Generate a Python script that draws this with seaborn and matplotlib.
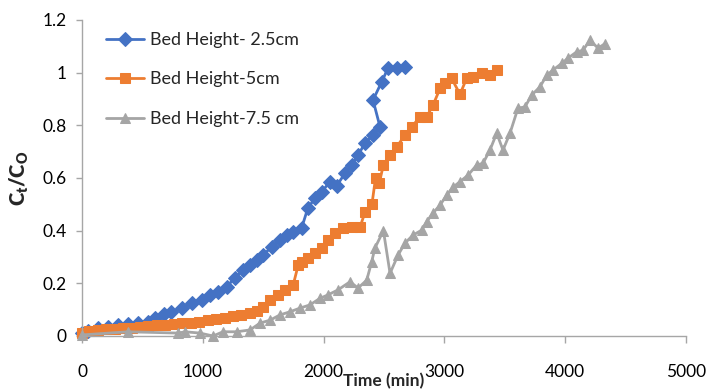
# Imports:
import numpy as np
import pandas as pd
import matplotlib
matplotlib.use("Agg")
import matplotlib.pyplot as plt
import seaborn as sns

# Data:
# > Bed Height 2.5 cm:
time_25 = [0, 50, 130, 215, 300, 380, 465, 545, 605, 675, 740, 825, 910, 990,
           1060, 1125, 1200, 1265, 1335, 1390, 1445, 1500, 1570, 1640, 1695,
           1750, 1818, 1870, 1930, 1985, 2053, 2108, 2180, 2232, 2285, 2343,
           2409, 2467, 2409, 2481, 2533, 2605, 2674]
ratio_25 = [0.01, 0.02, 0.03, 0.034, 0.04, 0.045, 0.05, 0.055, 0.068, 0.085,
            0.09, 0.105, 0.125, 0.137, 0.155, 0.168, 0.187, 0.222, 0.25, 0.27,
            0.288, 0.307, 0.339, 0.364, 0.383, 0.395, 0.41, 0.486, 0.524,
            0.548, 0.586, 0.57, 0.62, 0.649, 0.687, 0.732, 0.763, 0.794, 0.896,
            0.965, 1.017, 1.016, 1.022]

# > Bed Height 5 cm:
time_5 = [0, 60, 130, 200, 270, 340, 410, 480, 550, 620, 690, 760, 830, 900,
          970, 1040, 1110, 1180, 1250, 1320, 1390, 1450, 1500, 1556, 1624,
          1680, 1749, 1790, 1818, 1870, 1930, 1984, 2040, 2094, 2161, 2232,
          2301, 2343, 2400, 2430, 2460, 2495, 2550, 2605, 2674, 2729, 2798,
          2853, 2906, 2964, 3005, 3060, 3129, 3184, 3237, 3309, 3377, 3433]
ratio_5 = [0.01, 0.02, 0.022, 0.025, 0.027, 0.03, 0.032, 0.035, 0.037, 0.04,
           0.042, 0.045, 0.048, 0.05, 0.054, 0.06, 0.065, 0.07, 0.075, 0.08,
           0.088, 0.095, 0.11, 0.137, 0.156, 0.175, 0.195, 0.27, 0.28, 0.296,
           0.315, 0.334, 0.364, 0.39, 0.41, 0.413, 0.413, 0.47, 0.5, 0.6, 0.58,
           0.649, 0.687, 0.718, 0.763, 0.794, 0.832, 0.832, 0.877, 0.94, 0.959,
           0.978, 0.918, 0.978, 0.984, 0.997, 0.99, 1.009]

# > Bed Height 7.5 cm:
time_75 = [0, 381, 795, 853, 977, 1085, 1167, 1280, 1391, 1474, 1556, 1639,
           1722, 1805, 1887, 1970, 2036, 2119, 2219, 2285, 2357, 2398, 2425,
           2495, 2550, 2616, 2674, 2740, 2812, 2853, 2906, 2964, 3019, 3071,
           3129, 3196, 3267, 3320, 3377, 3433, 3485, 3543, 3609, 3667, 3723,
           3791, 3847, 3899, 3971, 4023, 4095, 4147, 4205, 4272, 4329]
ratio_75 = [0.004, 0.016, 0.011, 0.016, 0.011, 0.0, 0.016, 0.016, 0.023, 0.049,
            0.06, 0.08, 0.092, 0.106, 0.118, 0.143, 0.156, 0.175, 0.206, 0.182,
            0.212, 0.282, 0.334, 0.4, 0.238, 0.307, 0.353, 0.383, 0.402, 0.434,
            0.467, 0.497, 0.535, 0.565, 0.586, 0.611, 0.649, 0.656, 0.706,
            0.77, 0.706, 0.77, 0.865, 0.87, 0.915, 0.946, 0.99, 1.01, 1.035,
            1.055, 1.079, 1.085, 1.123, 1.093, 1.11]

# Ticks:
x_ticks = [0, 1000, 2000, 3000, 4000, 5000]
y_ticks = [0, 0.2, 0.4, 0.6, 0.8, 1.0, 1.2]

# Style:
sns.set_theme(style="white")
plt.rcParams["font.family"] = ["Lato", "DejaVu Sans"]

# Figure:
fig = plt.figure(figsize=(7.1, 3.91), dpi=100)
ax = fig.add_axes([0.1155, 0.1407, 0.8507, 0.8082])

series = [
    ("Bed Height- 2.5cm", time_25, ratio_25, "#4472C4", "D", 7),
    ("Bed Height-5cm", time_5, ratio_5, "#ED7D31", "s", 7.5),
    ("Bed Height-7.5 cm", time_75, ratio_75, "#A5A5A5", "^", 7.5),
]

# Lines:
for label, xs, ys, color, marker, size in series:
    frame = pd.DataFrame({"time": xs, "ratio": ys})
    sns.lineplot(
        data=frame,
        x="time",
        y="ratio",
        sort=False,
        estimator=None,
        color=color,
        marker=marker,
        markersize=size,
        markeredgecolor=color,
        linewidth=2,
        label=label,
        clip_on=False,
        ax=ax
    )

# Axes:
ax.set_xlim(0, 5000)
ax.set_ylim(0, 1.2)
ax.set_xticks(x_ticks)
ax.set_yticks(y_ticks)
ax.set_yticklabels([f"{v:g}" for v in y_ticks])

for side in ["top", "right"]:
    ax.spines[side].set_visible(False)
for side in ["left", "bottom"]:
    ax.spines[side].set_color("#A6A6A6")
    ax.spines[side].set_linewidth(1)

ax.tick_params(axis="x", bottom=True, length=5, width=1, color="#A6A6A6",
               direction="out", pad=15, labelsize=12.5, labelcolor="black")
ax.tick_params(axis="y", left=True, length=4, width=1, color="#A6A6A6",
               direction="out", pad=7, labelsize=12.5, labelcolor="black")

# Labels:
ax.set_xlabel("Time (min)", fontsize=12.5, fontweight="bold")
ax.xaxis.set_label_coords(0.5, -0.118)
ax.set_ylabel(r"C$_\mathregular{t}$/C$_\mathregular{O}$", fontsize=14.5,
              fontweight="heavy")
ax.yaxis.set_label_coords(-0.084, 0.5)

# Legend:
ax.legend(loc="upper left", bbox_to_anchor=(0.028, 0.985), frameon=False,
          fontsize=13, handlelength=2.1, handletextpad=0.35,
          labelspacing=1.3, borderaxespad=0)

# Save:
fig.savefig("out.png", dpi=100)
